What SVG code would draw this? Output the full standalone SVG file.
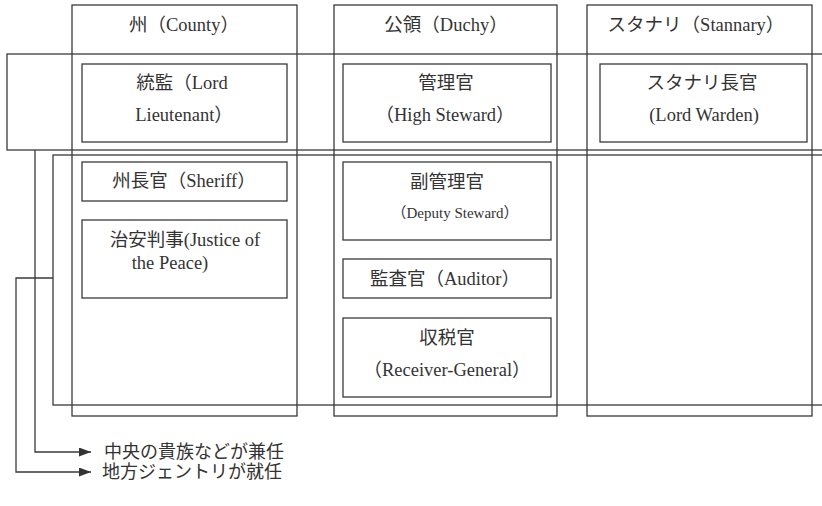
<svg xmlns="http://www.w3.org/2000/svg" width="822" height="506" viewBox="0 0 822 506">
<style>
.box{fill:none;stroke:#3a3a3a;stroke-width:1.3}
.ln{fill:none;stroke:#3a3a3a;stroke-width:1.3}
text{font-family:"Liberation Serif","Noto Sans CJK JP",serif;font-size:18.5px;fill:#333;text-anchor:middle}
.sm{font-size:15px}
.lg{font-size:18px;text-anchor:start}
</style>
<defs>
<marker id="arr" markerWidth="12" markerHeight="9" refX="12" refY="4.5" orient="auto" markerUnits="userSpaceOnUse">
<path d="M0,0 L12,4.5 L0,9 Z" fill="#333"/>
</marker>
</defs>
<rect width="822" height="506" fill="#fff"/>
<g id="band-central"><rect class="box" x="7" y="54" width="830" height="96"/></g>
<g id="band-local"><rect class="box" x="53" y="155" width="790" height="250"/></g>
<g id="col-county"><rect class="box" x="72" y="5" width="225" height="411"/><text x="184" y="31">州（County）</text></g>
<g id="col-duchy"><rect class="box" x="334" y="5" width="223" height="411"/><text x="446" y="31">公領（Duchy）</text></g>
<g id="col-stannary"><rect class="box" x="587" y="5" width="225" height="411"/><text x="696" y="31">スタナリ（Stannary）</text></g>
<g id="lord-lieutenant"><rect class="box" x="82" y="64" width="205" height="78"/><text x="182" y="89">統監（Lord</text><text x="184" y="121">Lieutenant）</text></g>
<g id="sheriff"><rect class="box" x="82" y="162" width="205" height="39"/><text x="184" y="187">州長官（Sheriff）</text></g>
<g id="justice"><rect class="box" x="82" y="220" width="205" height="78"/><text x="185" y="246">治安判事(Justice of</text><text x="170" y="269">the Peace)</text></g>
<g id="high-steward"><rect class="box" x="343" y="64" width="208" height="78"/><text x="446" y="89">管理官</text><text x="445" y="121">（High Steward）</text></g>
<g id="deputy-steward"><rect class="box" x="343" y="162" width="208" height="78"/><text x="447" y="188">副管理官</text><text class="sm" x="455" y="218">（Deputy Steward）</text></g>
<g id="auditor"><rect class="box" x="343" y="259" width="208" height="39"/><text x="445" y="285">監査官（Auditor）</text></g>
<g id="receiver-general"><rect class="box" x="343" y="318" width="208" height="79"/><text x="447" y="344">収税官</text><text x="447" y="376">（Receiver-General）</text></g>
<g id="lord-warden"><rect class="box" x="600" y="64" width="207" height="78"/><text x="702" y="89">スタナリ長官</text><text x="704" y="121">(Lord Warden)</text></g>
<g id="connectors">
<polyline class="ln" points="35,150 35,452 91,452" marker-end="url(#arr)"/>
<polyline class="ln" points="53,278 16,278 16,472 91,472" marker-end="url(#arr)"/>
</g>
<g id="legend">
<text class="lg" x="104" y="458">中央の貴族などが兼任</text>
<text class="lg" x="102" y="478">地方ジェントリが就任</text>
</g>
</svg>
